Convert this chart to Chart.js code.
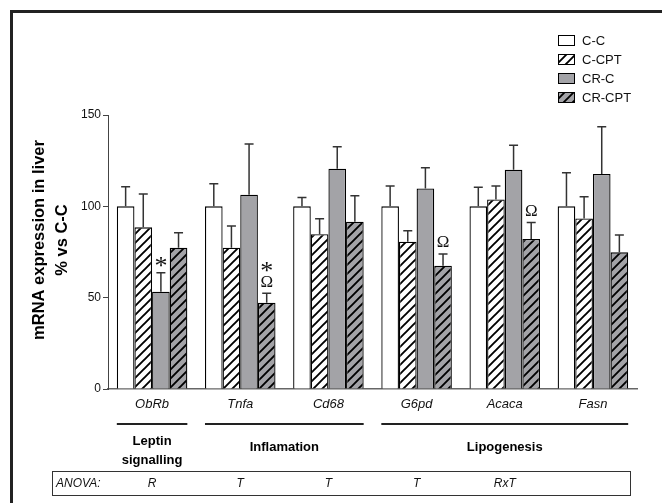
<!DOCTYPE html>
<html>
<head>
<meta charset="utf-8">
<script src="https://cdn.jsdelivr.net/npm/chart.js@4.4.1/dist/chart.umd.min.js"></script>
<style>
  html, body { margin: 0; padding: 0; background: #fff; }
  #wrap { width: 662px; height: 503px; position: relative; }
</style>
</head>
<body>
<div id="wrap"><canvas id="chart" width="662" height="503"></canvas></div>
<script>
const GENES = ['ObRb', 'Tnfa', 'Cd68', 'G6pd', 'Acaca', 'Fasn'];
const SERIES = ['C-C', 'C-CPT', 'CR-C', 'CR-CPT'];

const C_C = [100, 100, 100, 100, 100, 100];
const C_CPT = [88.5, 77.3, 84.7, 80.6, 103.8, 93.4];
const CR_C = [53.3, 106.4, 120.6, 109.8, 120, 117.7];
const CR_CPT = [77.3, 47.2, 91.6, 67.5, 82.1, 74.8];

const C_C_ERR = [10.7, 12.4, 4.9, 11.1, 10.4, 18.4];
const C_CPT_ERR = [18.2, 11.9, 8.5, 6, 7.3, 11.9];
const CR_C_ERR = [10.4, 27.7, 12, 11.3, 13.5, 25.9];
const CR_CPT_ERR = [8.2, 5.2, 14.2, 6.4, 9.1, 9.5];

const Y_TICKS = [0, 50, 100, 150];

// significance marks: [gene index, series index, symbols from bottom to top]
const MARKS = [
  [0, 2, ['*']],
  [1, 3, ['Ω', '*']],
  [3, 3, ['Ω']],
  [4, 3, ['Ω']]
];

// pathway groups: label lines, first gene, last gene
const GROUPS = [
  { lines: ['Leptin', 'signalling'], from: 0, to: 0 },
  { lines: ['Inflamation'], from: 1, to: 2 },
  { lines: ['Lipogenesis'], from: 3, to: 5 }
];

const ANOVA = ['R', 'T', 'T', 'T', 'RxT', ''];

const GREY = '#a3a3a7';
const FONT = '"Liberation Sans", Arial, sans-serif';

function hatch(bg) {
  const c = document.createElement('canvas');
  c.width = 9; c.height = 9;
  const g = c.getContext('2d');
  g.fillStyle = bg;
  g.fillRect(0, 0, 9, 9);
  g.strokeStyle = '#000';
  g.lineWidth = 1.9;
  g.beginPath();
  g.moveTo(-1, 10); g.lineTo(10, -1);
  g.moveTo(-3, 3); g.lineTo(3, -3);
  g.moveTo(6, 12); g.lineTo(12, 6);
  g.stroke();
  return g.createPattern(c, 'repeat');
}

const FILLS = ['#ffffff', hatch('#ffffff'), GREY, hatch(GREY)];
const VALUES = [C_C, C_CPT, CR_C, CR_CPT];
const ERRORS = [C_C_ERR, C_CPT_ERR, CR_C_ERR, CR_CPT_ERR];

const extrasPlugin = {
  id: 'figureExtras',
  afterDatasetsDraw(chart) {
    const { ctx, scales } = chart;
    const y = scales.y;
    ctx.save();
    // error bars (upper only)
    chart.data.datasets.forEach((ds, di) => {
      const meta = chart.getDatasetMeta(di);
      meta.data.forEach((bar, i) => {
        const top = y.getPixelForValue(ds.data[i] + ds.err[i]);
        ctx.strokeStyle = '#333';
        ctx.lineWidth = 1.5;
        ctx.beginPath();
        ctx.moveTo(bar.x, bar.y);
        ctx.lineTo(bar.x, top);
        ctx.moveTo(bar.x - 4.5, top);
        ctx.lineTo(bar.x + 4.5, top);
        ctx.stroke();
      });
    });
    // significance symbols
    ctx.fillStyle = '#111';
    ctx.textAlign = 'center';
    ctx.textBaseline = 'middle';
    MARKS.forEach(([gi, si, syms]) => {
      const bar = chart.getDatasetMeta(si).data[gi];
      const ds = chart.data.datasets[si];
      let py = y.getPixelForValue(ds.data[gi] + ds.err[gi]) - 11;
      syms.forEach((s) => {
        if (s === '*') {
          ctx.font = '26px "Liberation Serif", serif';
          ctx.fillText(s, bar.x, py + 6);
        } else {
          ctx.font = '17px "Liberation Serif", serif';
          ctx.fillText(s, bar.x, py);
        }
        py -= 16;
      });
    });
    ctx.restore();
  },
  afterDraw(chart) {
    const { ctx, scales } = chart;
    const x = scales.x;
    const band = (x.getPixelForValue(1) - x.getPixelForValue(0));
    ctx.save();
    // frame
    ctx.strokeStyle = '#222';
    ctx.lineWidth = 3;
    ctx.beginPath();
    ctx.moveTo(11.5, 503);
    ctx.lineTo(11.5, 11.5);
    ctx.lineTo(662, 11.5);
    ctx.stroke();

    // y title
    ctx.fillStyle = '#000';
    ctx.font = 'bold 16.5px ' + FONT;
    ctx.textAlign = 'center';
    ctx.textBaseline = 'middle';
    ctx.translate(39, 240);
    ctx.rotate(-Math.PI / 2);
    ctx.fillText('mRNA expression in liver', 0, 0);
    ctx.fillText('% vs C-C', 0, 23);
    ctx.setTransform(1, 0, 0, 1, 0, 0);

    // legend
    ctx.font = '13px ' + FONT;
    ctx.textAlign = 'left';
    SERIES.forEach((name, i) => {
      const ly = 40 + i * 19;
      ctx.fillStyle = FILLS[i];
      ctx.fillRect(558, ly - 5, 17, 10);
      ctx.strokeStyle = '#000';
      ctx.lineWidth = 1;
      ctx.strokeRect(558.5, ly - 4.5, 16, 10);
      ctx.fillStyle = '#111';
      ctx.fillText(name, 582, ly + 1);
    });

    // pathway groups
    ctx.textAlign = 'center';
    GROUPS.forEach((g) => {
      const x0 = x.getPixelForValue(g.from) - band * 0.4;
      const x1 = x.getPixelForValue(g.to) + band * 0.4;
      ctx.strokeStyle = '#222';
      ctx.lineWidth = 2;
      ctx.beginPath();
      ctx.moveTo(x0, 424);
      ctx.lineTo(x1, 424);
      ctx.stroke();
      ctx.fillStyle = '#000';
      ctx.font = 'bold 13px ' + FONT;
      const cx = (x0 + x1) / 2;
      if (g.lines.length === 2) {
        ctx.fillText(g.lines[0], cx, 441);
        ctx.fillText(g.lines[1], cx, 460);
      } else {
        ctx.fillText(g.lines[0], cx, 447);
      }
    });

    // ANOVA box
    ctx.strokeStyle = '#333';
    ctx.lineWidth = 1;
    ctx.strokeRect(52.5, 471.5, 578, 24);
    ctx.fillStyle = '#111';
    ctx.font = 'italic 12px ' + FONT;
    ctx.textAlign = 'left';
    ctx.fillText('ANOVA:', 56, 484);
    ctx.textAlign = 'center';
    ANOVA.forEach((t, i) => {
      if (t) ctx.fillText(t, x.getPixelForValue(i), 484);
    });
    ctx.restore();
  }
};

new Chart(document.getElementById('chart'), {
  type: 'bar',
  data: {
    labels: GENES,
    datasets: SERIES.map((name, i) => ({
      label: name,
      data: VALUES[i],
      err: ERRORS[i],
      backgroundColor: FILLS[i],
      borderColor: '#000',
      borderWidth: 1.3,
      categoryPercentage: 0.8,
      barPercentage: 1
    }))
  },
  options: {
    responsive: false,
    animation: false,
    layout: { padding: { top: 115, right: 25, left: 0, bottom: 0 } },
    plugins: { legend: { display: false }, tooltip: { enabled: false } },
    scales: {
      x: {
        grid: { display: false, drawTicks: false },
        border: { display: true, color: '#666', width: 1.5 },
        ticks: { color: '#111', padding: 8, font: { family: FONT, size: 13, style: 'italic' } },
        afterFit: (s) => { s.height = 114; }
      },
      y: {
        min: 0,
        max: 150,
        afterBuildTicks: (s) => { s.ticks = Y_TICKS.map((v) => ({ value: v })); },
        grid: { drawOnChartArea: false, drawTicks: true, tickLength: 5, color: '#444' },
        border: { display: true, color: '#444', width: 1 },
        ticks: { color: '#111', padding: 2, font: { family: FONT, size: 12 } },
        afterFit: (s) => { s.width = 108; }
      }
    }
  },
  plugins: [extrasPlugin]
});
</script>
</body>
</html>
